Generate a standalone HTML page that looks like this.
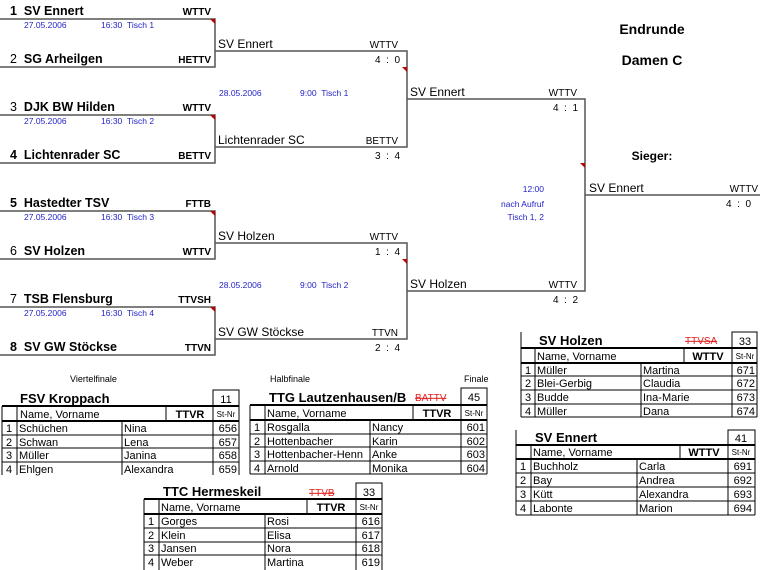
<!DOCTYPE html>
<html><head><meta charset="utf-8"><style>
html,body{margin:0;padding:0;background:#fff}
svg{display:block;font-family:"Liberation Sans",sans-serif}
.b{font-weight:bold}
.bl{fill:#2323c8;font-size:8.5px}
.r1{font-size:12.5px}
.r2{font-size:12px}
.fd{font-size:10px}
.t{font-size:11px}
.ti{font-size:13px;font-weight:bold}
.sn{font-size:8px}
.rd{fill:#e02020;font-size:10px;text-decoration:line-through}
</style></head><body>
<svg width="760" height="570" viewBox="0 0 760 570" xmlns="http://www.w3.org/2000/svg">
<g stroke="#555" stroke-width="1.5" fill="none">
<path d="M0 19H215V67H0"/>
<path d="M0 115H215V163H0"/>
<path d="M0 211H215V259H0"/>
<path d="M0 307H215V355H0"/>
<path d="M215 51H407V147H215"/>
<path d="M215 243H407V339H215"/>
<path d="M407 99H585V291H407"/>
<path d="M585 195H760"/>
</g>
<g fill="#c00000">
<path d="M210 19H215V24Z"/><path d="M210 115H215V120Z"/>
<path d="M210 211H215V216Z"/><path d="M210 307H215V312Z"/>
<path d="M402 67H407V72Z"/><path d="M402 259H407V264Z"/>
<path d="M580 163H585V168Z"/>
</g>
<g class="r1">
<text x="10" y="15" class="b">1&#160; SV Ennert</text>
<text x="10" y="63">2 <tspan class="b">&#160;SG Arheilgen</tspan></text>
<text x="10" y="111">3 <tspan class="b">&#160;DJK BW Hilden</tspan></text>
<text x="10" y="159" class="b">4&#160; Lichtenrader SC</text>
<text x="10" y="207" class="b">5&#160; Hastedter TSV</text>
<text x="10" y="255">6 <tspan class="b">&#160;SV Holzen</tspan></text>
<text x="10" y="303">7 <tspan class="b">&#160;TSB Flensburg</tspan></text>
<text x="10" y="351" class="b">8&#160; SV GW Stöckse</text>
</g>
<g class="fd b" text-anchor="end">
<text x="211" y="15">WTTV</text><text x="211" y="63">HETTV</text>
<text x="211" y="111">WTTV</text><text x="211" y="159">BETTV</text>
<text x="211" y="207">FTTB</text><text x="211" y="255">WTTV</text>
<text x="211" y="303">TTVSH</text><text x="211" y="351">TTVN</text>
</g>
<g class="bl">
<text x="24" y="28">27.05.2006</text><text x="101" y="28">16:30 &#160;Tisch 1</text>
<text x="24" y="124">27.05.2006</text><text x="101" y="124">16:30 &#160;Tisch 2</text>
<text x="24" y="220">27.05.2006</text><text x="101" y="220">16:30 &#160;Tisch 3</text>
<text x="24" y="316">27.05.2006</text><text x="101" y="316">16:30 &#160;Tisch 4</text>
<text x="219" y="96">28.05.2006</text><text x="300" y="96">9:00 &#160;Tisch 1</text>
<text x="219" y="288">28.05.2006</text><text x="300" y="288">9:00 &#160;Tisch 2</text>
<text x="544" y="192" text-anchor="end">12:00</text>
<text x="544" y="207" text-anchor="end">nach Aufruf</text>
<text x="544" y="220" text-anchor="end">Tisch 1, 2</text>
</g>
<g class="r2">
<text x="218" y="48">SV Ennert</text><text x="218" y="144">Lichtenrader SC</text>
<text x="218" y="240">SV Holzen</text><text x="218" y="336">SV GW Stöckse</text>
<text x="410" y="96">SV Ennert</text><text x="410" y="288">SV Holzen</text>
<text x="589" y="192">SV Ennert</text>
</g>
<g class="fd" text-anchor="end">
<text x="398" y="48">WTTV</text><text x="398" y="144">BETTV</text>
<text x="398" y="240">WTTV</text><text x="398" y="336">TTVN</text>
<text x="577" y="96">WTTV</text><text x="577" y="288">WTTV</text>
<text x="758" y="192">WTTV</text>
<text x="400" y="63">4 &#160;: &#160;0</text><text x="400" y="159">3 &#160;: &#160;4</text>
<text x="400" y="255">1 &#160;: &#160;4</text><text x="400" y="351">2 &#160;: &#160;4</text>
<text x="578" y="111">4 &#160;: &#160;1</text><text x="578" y="303">4 &#160;: &#160;2</text>
<text x="751" y="207">4 &#160;: &#160;0</text>
</g>
<g class="b" font-size="14" text-anchor="middle">
<text x="652" y="34">Endrunde</text><text x="652" y="65">Damen C</text>
</g>
<text x="652" y="160" class="b" font-size="12" text-anchor="middle">Sieger:</text>
<g font-size="9">
<text x="70" y="382">Viertelfinale</text><text x="270" y="382">Halbfinale</text><text x="464" y="382">Finale</text>
</g>

<g stroke="#000" fill="none" stroke-width="1">
<rect x="213" y="390" width="26" height="16"/>
<path d="M2 406H239M2 421H239M2 435H239M2 448H239M2 462H239" />
<path d="M2 406V475M17 406V475M122 421V475M166 406V421M213 390V475M239 390V475"/>
<rect x="461" y="388" width="26" height="17"/>
<path d="M250 405H487M250 420H487M250 434H487M250 447H487M250 461H487M250 474H487"/>
<path d="M250 405V474M265 405V474M370 420V474M413 405V420M461 388V474M487 388V474"/>
<rect x="356" y="483" width="26" height="16"/>
<path d="M144 499H382M144 514H382M144 528H382M144 542H382M144 555H382"/>
<path d="M144 499V570M159 499V570M265 514V570M307 499V514M356 483V570M382 483V570"/>
<rect x="732" y="332" width="25" height="16"/>
<path d="M521 348H757M521 363H757M521 376H757M521 390H757M521 404H757M521 417H757"/>
<path d="M521 332V417M535 348V417M641 363V417M684 348V363M732 332V417M757 332V417"/>
<rect x="728" y="430" width="27" height="15"/>
<path d="M516 445H755M516 459H755M516 473H755M516 487H755M516 501H755M516 515H755"/>
<path d="M516 430V515M531 445V515M637 459V515M680 445V459M728 430V515M755 430V515"/>
</g>
<g stroke="#000" stroke-width="2">
<path d="M2 406H239M2 421H239M250 405H487M250 420H487M144 499H382M144 514H382M521 348H757M521 363H757M516 445H755M516 459H755"/>
</g>

<g class="t">
<text x="20" y="403" class="ti">FSV Kroppach</text>
<text x="226" y="403" text-anchor="middle">11</text>
<text x="20" y="418">Name, Vorname</text>
<text x="190" y="418" class="b" text-anchor="middle">TTVR</text>
<text x="226" y="417" class="sn" text-anchor="middle">St-Nr</text>
<text x="6" y="432">1</text><text x="19" y="432">Schüchen</text><text x="124" y="432">Nina</text><text x="237" y="432" text-anchor="end">656</text>
<text x="6" y="446">2</text><text x="19" y="446">Schwan</text><text x="124" y="446">Lena</text><text x="237" y="446" text-anchor="end">657</text>
<text x="6" y="459">3</text><text x="19" y="459">Müller</text><text x="124" y="459">Janina</text><text x="237" y="459" text-anchor="end">658</text>
<text x="6" y="473">4</text><text x="19" y="473">Ehlgen</text><text x="124" y="473">Alexandra</text><text x="237" y="473" text-anchor="end">659</text>
</g>
<g class="t">
<text x="269" y="402" class="ti">TTG Lautzenhausen/B</text>
<text x="415" y="401" class="rd">BATTV</text>
<text x="474" y="401" text-anchor="middle">45</text>
<text x="267" y="417">Name, Vorname</text>
<text x="437" y="417" class="b" text-anchor="middle">TTVR</text>
<text x="474" y="416" class="sn" text-anchor="middle">St-Nr</text>
<text x="254" y="431">1</text><text x="267" y="431">Rosgalla</text><text x="372" y="431">Nancy</text><text x="485" y="431" text-anchor="end">601</text>
<text x="254" y="445">2</text><text x="267" y="445">Hottenbacher</text><text x="372" y="445">Karin</text><text x="485" y="445" text-anchor="end">602</text>
<text x="254" y="458">3</text><text x="267" y="458">Hottenbacher-Henn</text><text x="372" y="458">Anke</text><text x="485" y="458" text-anchor="end">603</text>
<text x="254" y="472">4</text><text x="267" y="472">Arnold</text><text x="372" y="472">Monika</text><text x="485" y="472" text-anchor="end">604</text>
</g>
<g class="t">
<text x="163" y="496" class="ti">TTC Hermeskeil</text>
<text x="309" y="496" class="rd">TTVB</text>
<text x="369" y="496" text-anchor="middle">33</text>
<text x="161" y="511">Name, Vorname</text>
<text x="331" y="511" class="b" text-anchor="middle">TTVR</text>
<text x="369" y="510" class="sn" text-anchor="middle">St-Nr</text>
<text x="148" y="525">1</text><text x="161" y="525">Gorges</text><text x="267" y="525">Rosi</text><text x="380" y="525" text-anchor="end">616</text>
<text x="148" y="539">2</text><text x="161" y="539">Klein</text><text x="267" y="539">Elisa</text><text x="380" y="539" text-anchor="end">617</text>
<text x="148" y="552">3</text><text x="161" y="552">Jansen</text><text x="267" y="552">Nora</text><text x="380" y="552" text-anchor="end">618</text>
<text x="148" y="566">4</text><text x="161" y="566">Weber</text><text x="267" y="566">Martina</text><text x="380" y="566" text-anchor="end">619</text>
</g>
<g class="t">
<text x="539" y="345" class="ti">SV Holzen</text>
<text x="685" y="344" class="rd">TTVSA</text>
<text x="745" y="345" text-anchor="middle">33</text>
<text x="537" y="360">Name, Vorname</text>
<text x="708" y="360" class="b" text-anchor="middle">WTTV</text>
<text x="745" y="359" class="sn" text-anchor="middle">St-Nr</text>
<text x="525" y="374">1</text><text x="537" y="374">Müller</text><text x="643" y="374">Martina</text><text x="755" y="374" text-anchor="end">671</text>
<text x="525" y="387">2</text><text x="537" y="387">Blei-Gerbig</text><text x="643" y="387">Claudia</text><text x="755" y="387" text-anchor="end">672</text>
<text x="525" y="401">3</text><text x="537" y="401">Budde</text><text x="643" y="401">Ina-Marie</text><text x="755" y="401" text-anchor="end">673</text>
<text x="525" y="415">4</text><text x="537" y="415">Müller</text><text x="643" y="415">Dana</text><text x="755" y="415" text-anchor="end">674</text>
</g>
<g class="t">
<text x="535" y="442" class="ti">SV Ennert</text>
<text x="741" y="442" text-anchor="middle">41</text>
<text x="533" y="456">Name, Vorname</text>
<text x="704" y="456" class="b" text-anchor="middle">WTTV</text>
<text x="741" y="455" class="sn" text-anchor="middle">St-Nr</text>
<text x="520" y="470">1</text><text x="533" y="470">Buchholz</text><text x="639" y="470">Carla</text><text x="752" y="470" text-anchor="end">691</text>
<text x="520" y="484">2</text><text x="533" y="484">Bay</text><text x="639" y="484">Andrea</text><text x="752" y="484" text-anchor="end">692</text>
<text x="520" y="498">3</text><text x="533" y="498">Kütt</text><text x="639" y="498">Alexandra</text><text x="752" y="498" text-anchor="end">693</text>
<text x="520" y="512">4</text><text x="533" y="512">Labonte</text><text x="639" y="512">Marion</text><text x="752" y="512" text-anchor="end">694</text>
</g>
</svg>
</body></html>
